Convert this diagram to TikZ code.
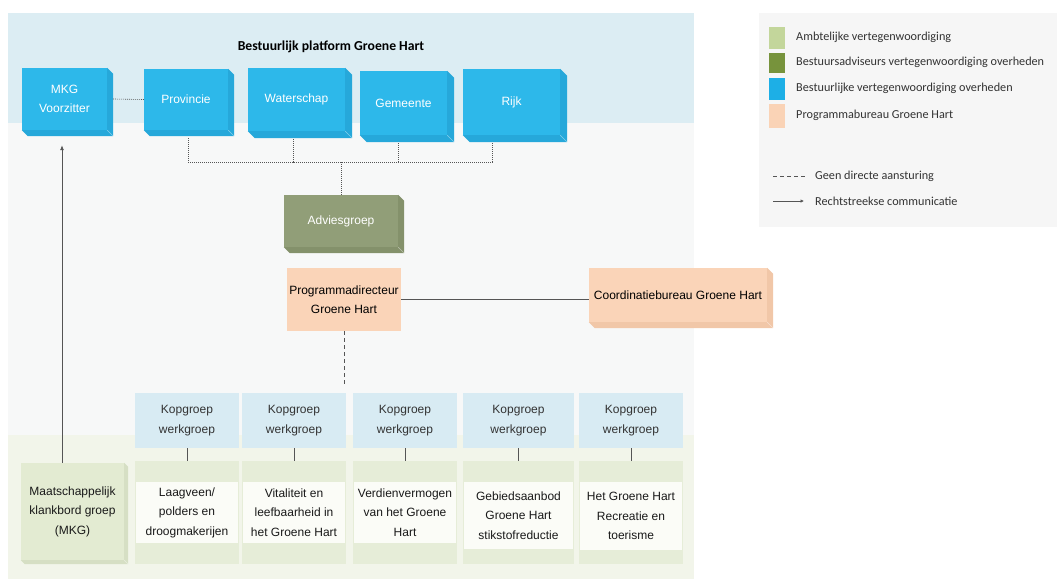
\documentclass[tikz,border=0pt]{standalone}
\usepackage{fontspec}
\setmainfont{Liberation Sans}
\newfontfamily\calfont{Carlito}
\usetikzlibrary{arrows.meta}
\definecolor{bandblue}{HTML}{DCEDF3}
\definecolor{panelgray}{HTML}{F7F8F8}
\definecolor{bandgreen}{HTML}{F2F5EA}
\definecolor{legendgray}{HTML}{F6F6F6}
\definecolor{cyanbox}{HTML}{2DB8EA}
\definecolor{cyanside}{HTML}{26A8DA}
\definecolor{olivebox}{HTML}{919E78}
\definecolor{oliveside}{HTML}{84916B}
\definecolor{peach}{HTML}{FAD4B8}
\definecolor{peachside}{HTML}{F1C7A8}
\definecolor{kopblue}{HTML}{D8EBF3}
\definecolor{greenpanel}{HTML}{E6EDD8}
\definecolor{whitebox}{HTML}{FBFCF7}
\definecolor{mkggreen}{HTML}{E3EBD2}
\definecolor{mkgside}{HTML}{D6DFC4}
\definecolor{lgA}{HTML}{C3D69B}
\definecolor{lgB}{HTML}{77933C}
\definecolor{lgC}{HTML}{1DAFE6}
\definecolor{lgD}{HTML}{FAD3B6}
\definecolor{linegray}{HTML}{555555}
\definecolor{txtgray}{HTML}{333333}
\newcommand{\bevel}[3]{%
  \fill[#2] (#1.north east) -- ++(#3,-#3) -- ([shift={(#3,-#3)}]#1.south east)
    -- ([shift={(#3,-#3)}]#1.south west) -- (#1.south west) -- (#1.south east) -- cycle;
  \draw[white,opacity=0.45,line width=0.5pt] (#1.south east) -- ++(#3,-#3);}
\begin{document}
\begin{tikzpicture}[x=1pt,y=-1pt,
  box/.style={inner sep=0pt, align=center, font=\fontsize{12}{19.5}\selectfont},
  bluebox/.style={box, fill=cyanbox, text=white},
  olbox/.style={box, fill=olivebox, text=white},
  pbox/.style={box, fill=peach, text=black},
  kopbox/.style={box, fill=kopblue, text=txtgray, minimum height=55pt},
  gpanel/.style={inner sep=0pt, fill=greenpanel, minimum height=103pt},
  wbox/.style={box, fill=whitebox, text=black!90},
  dotline/.style={linegray, line width=0.6pt, dash pattern=on 1pt off 1pt},
  dashline/.style={linegray, line width=0.7pt, dash pattern=on 4pt off 3pt},
  solidline/.style={linegray, line width=0.8pt},
  legsq/.style={inner sep=0pt, minimum width=16pt, minimum height=22pt},
  legtext/.style={anchor=west, inner sep=0pt, text=txtgray, font=\calfont\fontsize{12.2}{14}\selectfont}
]
\useasboundingbox (0,0) rectangle (1057,579);
% backgrounds
\fill[panelgray] (8,13) rectangle (694,579);
\fill[bandblue] (8,13) rectangle (694,123);
\fill[bandgreen] (8,435) rectangle (694,579);
\fill[legendgray] (759,13) rectangle (1057,227);

% title
\node[inner sep=0pt, font=\calfont\bfseries\fontsize{13.7}{16}\selectfont] (title) at (331,47) {Bestuurlijk platform Groene Hart};

% top boxes
\node[bluebox, minimum width=85pt, minimum height=62pt] (mkgv) at (64.5,99) {MKG\\Voorzitter};
\bevel{mkgv}{cyanside}{6pt}
\node[bluebox, minimum width=84pt, minimum height=61pt] (prov) at (186,99.5) {Provincie};
\bevel{prov}{cyanside}{6pt}
\node[bluebox, minimum width=97pt, minimum height=63pt] (water) at (296.5,99.5) {Waterschap};
\bevel{water}{cyanside}{7pt}
\node[bluebox, minimum width=87pt, minimum height=64pt] (gem) at (403.5,103) {Gemeente};
\bevel{gem}{cyanside}{7pt}
\node[bluebox, minimum width=97pt, minimum height=66pt] (rijk) at (511.5,102) {Rijk};
\bevel{rijk}{cyanside}{7pt}

% dotted connections
\draw[dotline] ([xshift=6pt]mkgv.east) -- (prov.west);
\coordinate (bus) at (341,162);
\draw[dotline] ([shift={(2pt,-8pt)}]prov.south) |- (bus);
\draw[dotline] ([shift={(-3.5pt,-8pt)}]water.south) |- (bus);
\draw[dotline] ([shift={(-5.5pt,-8pt)}]gem.south) |- (bus);
\draw[dotline] ([shift={(-19.5pt,-8pt)}]rijk.south) |- (bus);

% Adviesgroep
\node[olbox, minimum width=114pt, minimum height=52pt] (advies) at (341,221) {Adviesgroep};
\bevel{advies}{oliveside}{6pt}
\draw[dotline] (bus) -- (advies.north);

% Programmadirecteur & Coordinatiebureau
\node[pbox, minimum width=114pt, minimum height=63pt] (prog) at (344,299.5) {Programmadirecteur\\Groene Hart};
\node[pbox, minimum width=178pt, minimum height=54pt] (coord) at (678,295) {Coordinatiebureau Groene Hart};
\bevel{coord}{peachside}{6pt}
\draw[solidline] (prog.east) -- (prog.east -| coord.west);
\coordinate (dashend) at (344,387);
\draw[dashline] (prog.south) -- (dashend);

% Kopgroep boxes
\node[kopbox, minimum width=104pt] (k1) at (187,420.5) {Kopgroep\\werkgroep};
\node[kopbox, minimum width=104pt] (k2) at (294,420.5) {Kopgroep\\werkgroep};
\node[kopbox, minimum width=104pt] (k3) at (405,420.5) {Kopgroep\\werkgroep};
\node[kopbox, minimum width=111pt] (k4) at (518.5,420.5) {Kopgroep\\werkgroep};
\node[kopbox, minimum width=104pt] (k5) at (631,420.5) {Kopgroep\\werkgroep};

% green panels
\node[gpanel, minimum width=104pt] (g1) at (187,512.5) {};
\node[gpanel, minimum width=104pt] (g2) at (294,512.5) {};
\node[gpanel, minimum width=104pt] (g3) at (405,512.5) {};
\node[gpanel, minimum width=111pt] (g4) at (518.5,512.5) {};
\node[gpanel, minimum width=104pt] (g5) at (631,512.5) {};

% white boxes
\node[wbox, minimum width=102pt, minimum height=61pt] (w1) at (187,512.5) {Laagveen/\\polders en\\droogmakerijen};
\node[wbox, minimum width=102pt, minimum height=61pt] (w2) at (294,512.5) {Vitaliteit en\\leefbaarheid in\\het Groene Hart};
\node[wbox, minimum width=102pt, minimum height=61pt] (w3) at (405,512.5) {Verdienvermogen\\van het Groene\\Hart};
\node[wbox, minimum width=109pt, minimum height=67pt] (w4) at (518.5,515.5) {Gebiedsaanbod\\Groene Hart\\stikstofreductie};
\node[wbox, minimum width=102pt, minimum height=68pt] (w5) at (631,516) {Het Groene Hart\\Recreatie en\\toerisme};

\foreach \i in {1,...,5} {\draw[linegray, line width=0.7pt] (k\i.south) -- (g\i.north);}

% MKG bottom
\node[box, fill=mkggreen, text=black!90, minimum width=103pt, minimum height=97pt] (mkgb) at (72.5,511.5) {Maatschappelijk\\klankbord groep\\(MKG)};
\bevel{mkgb}{mkgside}{4pt}
\draw[solidline, -{Latex[length=5pt,width=4pt]}] ([xshift=-10.5pt]mkgb.north) -- ([shift={(-2.5pt,-15pt)}]mkgv.south);

% legend
\node[legsq, fill=lgA] (s1) at (777,37.5) {};
\node[legsq, fill=lgB, minimum height=20pt] (s2) at (777,63) {};
\node[legsq, fill=lgC] (s3) at (777,89) {};
\node[legsq, fill=lgD, minimum height=24pt] (s4) at (777,116) {};
\node[legtext] (t1) at (796,37) {Ambtelijke vertegenwoordiging};
\node[legtext] (t2) at (796,62) {Bestuursadviseurs vertegenwoordiging overheden};
\node[legtext] (t3) at (796,88) {Bestuurlijke vertegenwoordiging overheden};
\node[legtext] (t4) at (796,115) {Programmabureau Groene Hart};
\node[legtext] (t5) at (815,176) {Geen directe aansturing};
\node[legtext] (t6) at (815,201) {Rechtstreekse communicatie};
\coordinate (d1) at (773,176);
\coordinate (d2) at (806,176);
\draw[linegray, line width=0.6pt, dash pattern=on 4pt off 3pt] (d1) -- (d2);
\coordinate (a1) at (773,201);
\coordinate (a2) at (804,201);
\draw[linegray, line width=0.6pt, -{Latex[length=3.5pt,width=3.5pt]}] (a1) -- (a2);
\end{tikzpicture}
\end{document}
